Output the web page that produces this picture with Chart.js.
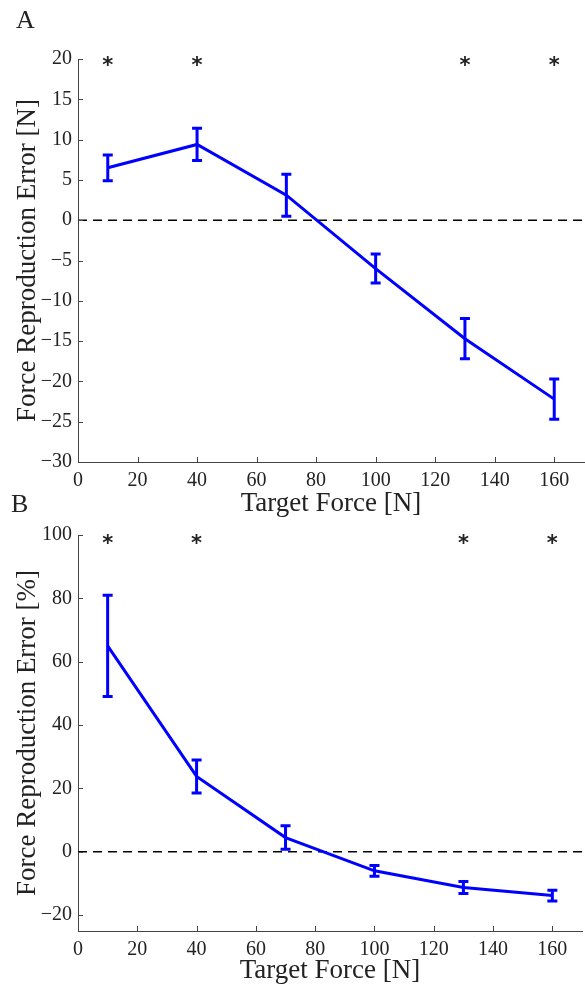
<!DOCTYPE html>
<html><head><meta charset="utf-8">
<script src="https://cdn.jsdelivr.net/npm/chart.js@4"></script>
<style>
html,body{margin:0;padding:0;background:#fff;}
#wrap{position:relative;width:585px;height:986px;overflow:hidden;background:#fff;}
.box{position:absolute;left:0;width:585px;}
#boxA{top:0;height:520px;}
#boxB{top:486px;height:500px;}
</style></head><body>
<div id="wrap">
  <div class="box" id="boxA"><canvas id="cA"></canvas></div>
  <div class="box" id="boxB"><canvas id="cB"></canvas></div>
</div>
<script>
// ---- data ----
const targetForce = [10, 40, 70, 100, 130, 160];
const errorN      = [6.5, 9.4, 3.1, -6.0, -14.7, -22.2];
const errorNsd    = [1.6, 2.0, 2.6, 1.8, 2.5, 2.5];
const errorPct    = [65.0, 23.8, 4.5, -6.0, -11.3, -13.8];
const errorPctSd  = [16.0, 5.2, 3.7, 1.7, 1.9, 1.7];
const signifForce = [10, 40, 130, 160];
const xTicks      = [0, 20, 40, 60, 80, 100, 120, 140, 160];
const yTicksA     = [-30, -25, -20, -15, -10, -5, 0, 5, 10, 15, 20];
const yTicksB     = [-20, 0, 20, 40, 60, 80, 100];
const xLabel      = 'Target Force [N]';
const yLabelA     = 'Force Reproduction Error [N]';
const yLabelB     = 'Force Reproduction Error [%]';

const SERIF = "'Liberation Serif', 'Times New Roman', serif";
const TXT = '#222';
const AX = '#444';
const BLUE = '#0000ff';

function fmt(v){ return String(v).replace('-', '\u2212'); }

function makeChart(canvasId, opt){
  const pts = targetForce.map((x,i)=>({x:x, y:opt.values[i]}));
  const zero = [{x:opt.xMin, y:0},{x:opt.xMax, y:0}];
  const extras = {
    id: 'extras' + canvasId,
    afterDatasetsDraw(chart){
      const ctx = chart.ctx, xs = chart.scales.x, ys = chart.scales.y;
      ctx.save();
      // error bars
      ctx.strokeStyle = BLUE; ctx.lineWidth = 3; ctx.lineCap = 'butt';
      targetForce.forEach((x,i)=>{
        const px = xs.getPixelForValue(x);
        const top = ys.getPixelForValue(opt.values[i] + opt.sd[i]);
        const bot = ys.getPixelForValue(opt.values[i] - opt.sd[i]);
        ctx.beginPath();
        ctx.moveTo(px, top); ctx.lineTo(px, bot);
        ctx.moveTo(px-5, top); ctx.lineTo(px+5, top);
        ctx.moveTo(px-5, bot); ctx.lineTo(px+5, bot);
        ctx.stroke();
      });
      // significance asterisks
      ctx.fillStyle = TXT;
      ctx.font = "bold 21px 'DejaVu Sans', sans-serif";
      ctx.textAlign = 'center'; ctx.textBaseline = 'middle';
      signifForce.forEach(x=>{
        ctx.fillText('*', xs.getPixelForValue(x), ys.getPixelForValue(opt.starY) + 4);
      });
      ctx.restore();
    },
    afterDraw(chart){
      const ctx = chart.ctx, xs = chart.scales.x, ys = chart.scales.y, a = chart.chartArea;
      ctx.save();
      ctx.strokeStyle = AX; ctx.lineWidth = 1;
      ctx.beginPath();
      xs.ticks.forEach(t=>{
        const px = Math.round(xs.getPixelForValue(t.value)) + 0.5;
        ctx.moveTo(px, a.bottom); ctx.lineTo(px, a.bottom - 5);
      });
      ys.ticks.forEach(t=>{
        const py = Math.round(ys.getPixelForValue(t.value)) + 0.5;
        ctx.moveTo(a.left, py); ctx.lineTo(a.left + 5, py);
      });
      ctx.stroke();
      // panel label
      ctx.fillStyle = TXT;
      ctx.font = "26px " + SERIF;
      ctx.textAlign = 'left'; ctx.textBaseline = 'alphabetic';
      ctx.fillText(opt.panel, opt.panelX, opt.panelY);
      ctx.restore();
    }
  };
  return new Chart(document.getElementById(canvasId), {
    type: 'line',
    data: {
      datasets: [
        {data: pts, borderColor: BLUE, borderWidth: 3, pointRadius: 0, tension: 0, fill: false},
        {data: zero, borderColor: '#000', borderWidth: 1.5, borderDash: [9, 6], pointRadius: 0, fill: false}
      ]
    },
    options: {
      responsive: true, maintainAspectRatio: false, animation: false,
      layout: {padding: {top: opt.padTop, right: opt.padRight, bottom: 0, left: 0}},
      plugins: {legend: {display: false}, tooltip: {enabled: false}},
      scales: {
        x: {
          type: 'linear', min: opt.xMin, max: opt.xMax,
          afterBuildTicks(s){ s.ticks = xTicks.map(v=>({value:v})); },
          afterFit(s){ s.height = opt.xAxisH; },
          grid: {display: true, drawOnChartArea: false, drawTicks: false},
          border: {display: true, color: AX, width: 1},
          ticks: {color: TXT, font: {family: SERIF, size: 20}, padding: opt.xTickPad, maxRotation: 0, autoSkip: false, callback: v=>fmt(v)},
          title: {display: true, text: xLabel, color: TXT, font: {family: SERIF, size: 27, lineHeight: 1}, padding: {top: 0, bottom: opt.xTitlePad}}
        },
        y: {
          type: 'linear', min: opt.yMin, max: opt.yMax,
          afterBuildTicks(s){ s.ticks = opt.yTicks.map(v=>({value:v})); },
          afterFit(s){ s.width = 78; },
          grid: {display: true, drawOnChartArea: false, drawTicks: false},
          border: {display: true, color: AX, width: 1},
          ticks: {color: TXT, font: {family: SERIF, size: 20}, padding: 6, autoSkip: false, callback: v=>fmt(v)},
          title: {display: true, text: opt.yLabel, color: TXT, font: {family: SERIF, size: 27, lineHeight: 1}, padding: {top: 14, bottom: 0}}
        }
      }
    },
    plugins: [extras]
  });
}

makeChart('cA', {
  values: errorN, sd: errorNsd, yMin: -30, yMax: 20, yTicks: yTicksA, yLabel: yLabelA,
  xMin: 0, xMax: 170, starY: 19.6, panel: 'A', panelX: 16, panelY: 28,
  padTop: 59, padRight: 1, xAxisH: 58, xTickPad: 7, xTitlePad: 3
});
makeChart('cB', {
  values: errorPct, sd: errorPctSd, yMin: -25, yMax: 100, yTicks: yTicksB, yLabel: yLabelB,
  xMin: 0, xMax: 170, starY: 98.1, panel: 'B', panelX: 11, panelY: 26,
  padTop: 49, padRight: 3, xAxisH: 55, xTickPad: 7, xTitlePad: 2
});
</script>
</body></html>
